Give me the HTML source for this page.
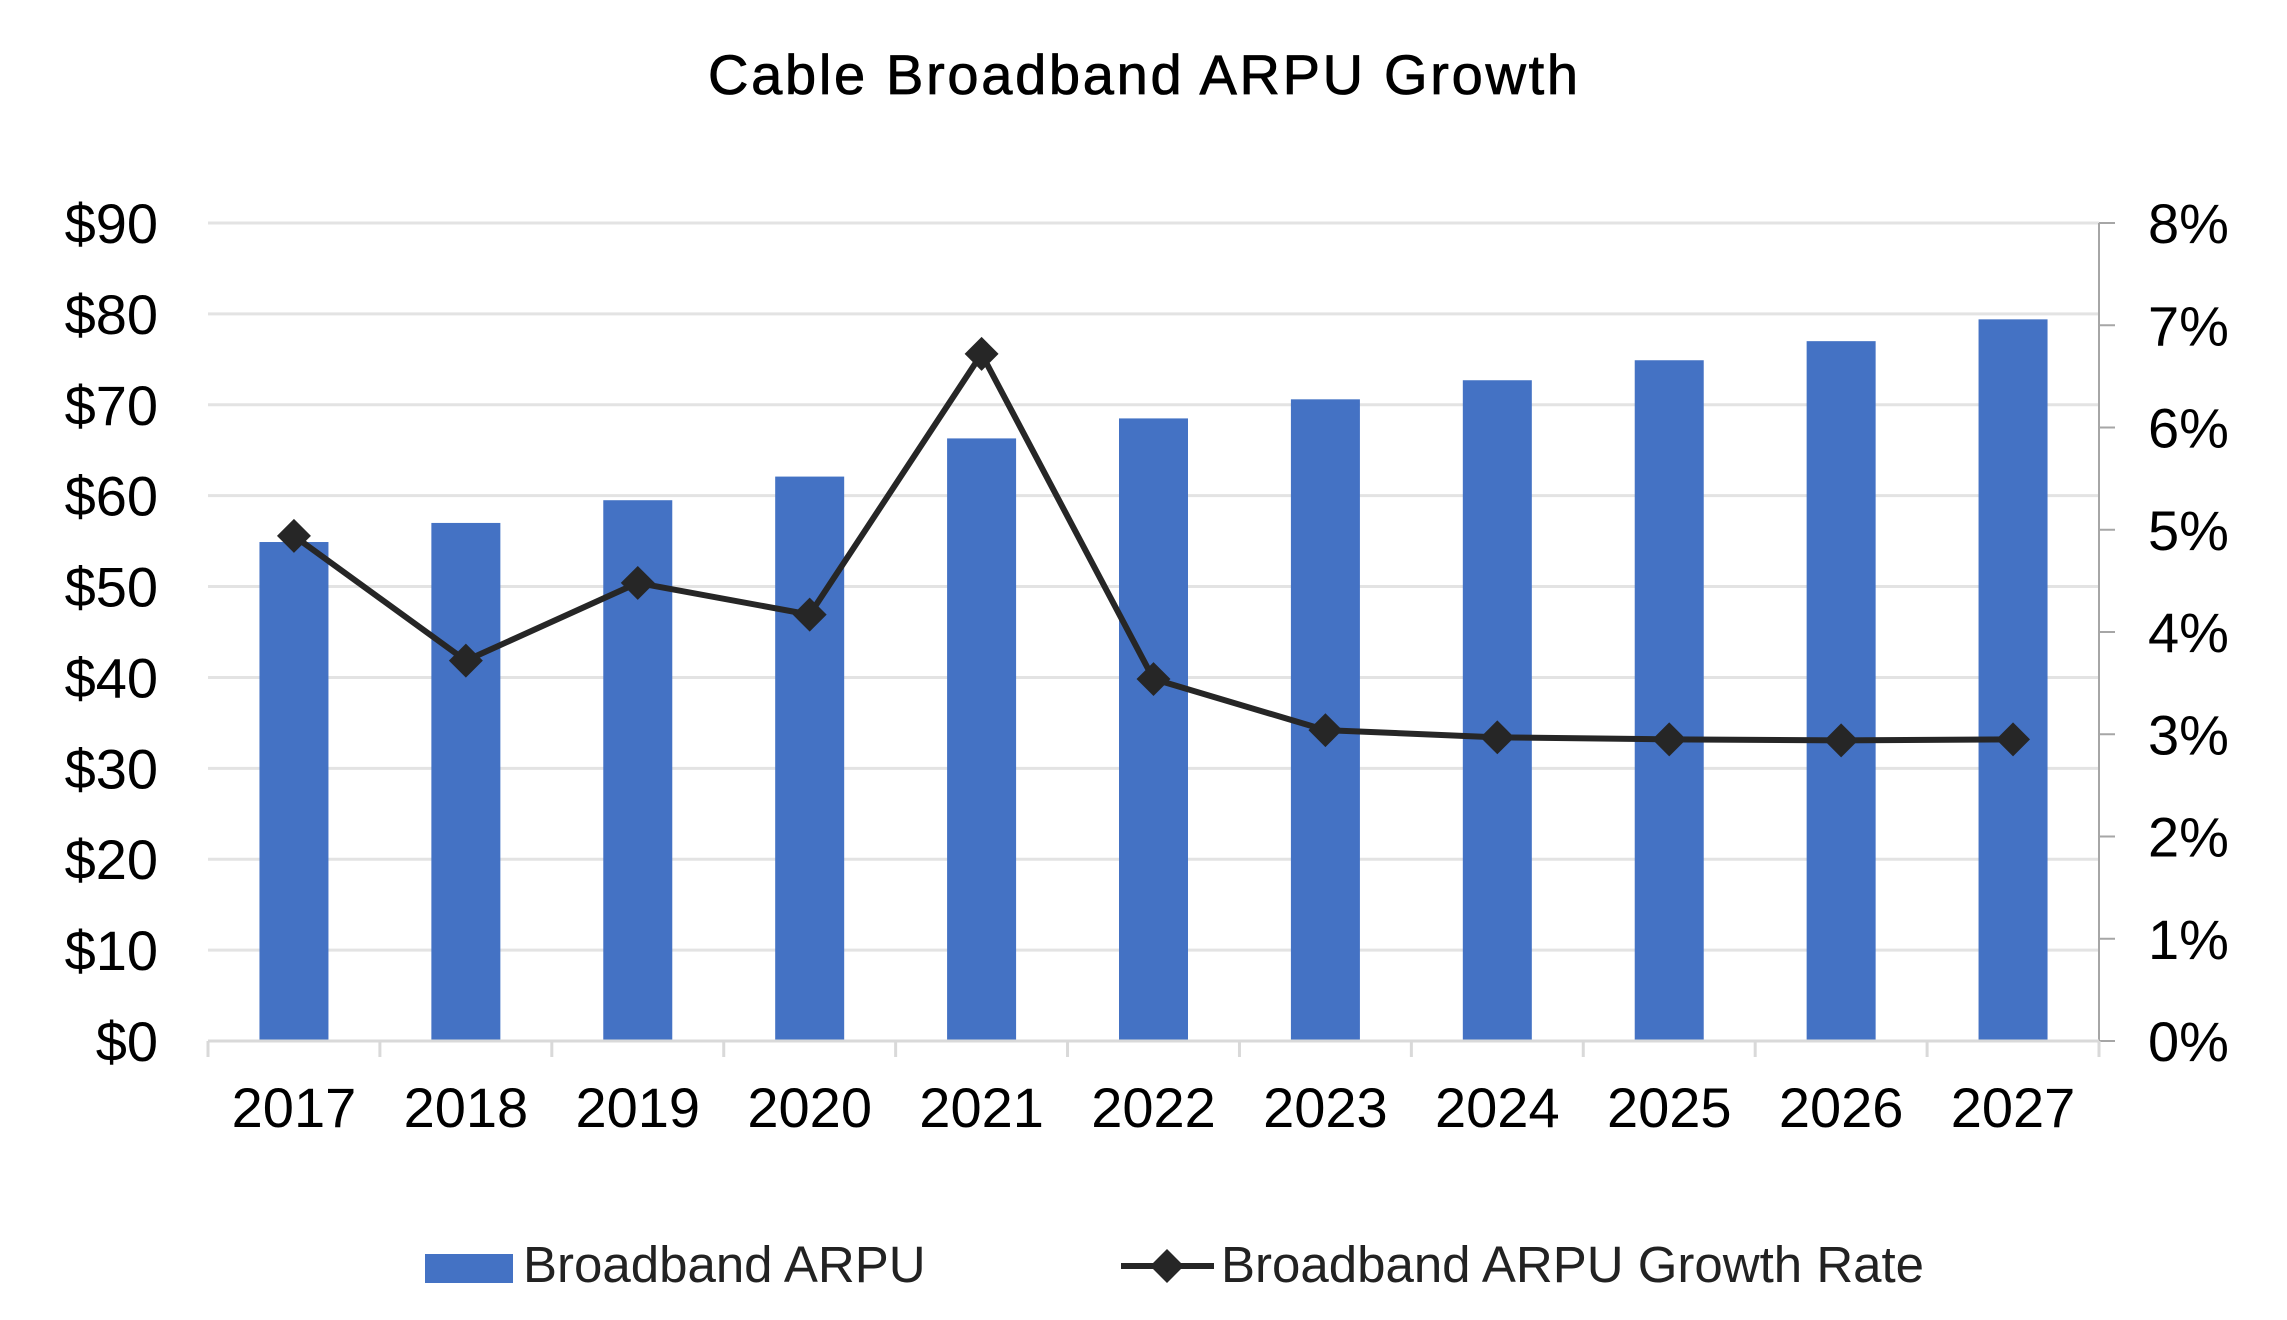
<!DOCTYPE html>
<html><head><meta charset="utf-8"><style>
html,body{margin:0;padding:0;background:#fff;}
svg{display:block;font-family:"Liberation Sans",sans-serif;}
</style></head><body>
<svg id="chart" width="2287" height="1320" viewBox="0 0 2287 1320" xmlns="http://www.w3.org/2000/svg">
<text x="1143" y="94" text-anchor="middle" font-size="56" textLength="870" fill="#000" stroke="#000" stroke-width="0.8">Cable Broadband ARPU Growth</text>
<g id="grid"></g>
<g id="bars"></g>
<g id="axes"></g>
<g id="line"></g>
<g>
<rect x="425" y="1254" width="88" height="29" fill="#4472C4"/>
<text x="523" y="1282" font-size="51" fill="#222">Broadband ARPU</text>
<line x1="1121" y1="1266" x2="1214" y2="1266" stroke="#262626" stroke-width="6"/>
<rect x="1155" y="1254" width="24" height="24" fill="#262626" transform="rotate(45 1167 1266)"/>
<text x="1221" y="1282" font-size="51" fill="#222">Broadband ARPU Growth Rate</text>
</g>
</svg>
<script>
const categories=["2017","2018","2019","2020","2021","2022","2023","2024","2025","2026","2027"];
const arpuValues=[54.9,57.0,59.5,62.1,66.3,68.5,70.6,72.7,74.9,77.0,79.4];
const growthValues=[4.94,3.72,4.48,4.17,6.72,3.54,3.04,2.97,2.95,2.94,2.95];
const leftTicks=[0,10,20,30,40,50,60,70,80,90];
const leftTickLabels=["$0","$10","$20","$30","$40","$50","$60","$70","$80","$90"];
const rightTicks=[0,1,2,3,4,5,6,7,8];
const rightTickLabels=["0%","1%","2%","3%","4%","5%","6%","7%","8%"];

const NS="http://www.w3.org/2000/svg";
const L=208,R=2099,T=223,B=1041;
const band=(R-L)/categories.length;
const xC=i=>L+band*(i+0.5);
const yL=v=>B-(v/90)*(B-T);
const yR=v=>B-(v/8)*(B-T);
function mk(tag,attrs,parent,txt){const e=document.createElementNS(NS,tag);for(const k in attrs)e.setAttribute(k,attrs[k]);if(txt!==undefined)e.textContent=txt;parent.appendChild(e);return e;}
const grid=document.getElementById('grid'),bars=document.getElementById('bars'),axes=document.getElementById('axes'),line=document.getElementById('line');

leftTicks.forEach((v,i)=>{
  if(v>0){const g=mk('line',{x1:L,x2:R,y1:yL(v),y2:yL(v),stroke:'#e3e3e3','stroke-width':3},grid);
  
  }
  const t=mk('text',{x:158,y:yL(v)+20,'text-anchor':'end','font-size':56,fill:'#000'},axes,leftTickLabels[i]);
  
  
});
rightTicks.forEach((v,i)=>{
  const tk=mk('line',{x1:R,x2:2115,y1:yR(v),y2:yR(v),stroke:'#a6a6a6','stroke-width':2},axes);
  
  
  const t=mk('text',{x:2148,y:yR(v)+20,'font-size':56,fill:'#000'},axes,rightTickLabels[i]);
  
  
});
const ra=mk('line',{x1:R,x2:R,y1:T,y2:B,stroke:'#a6a6a6','stroke-width':2},axes);


const xa=mk('line',{x1:L,x2:R,y1:B,y2:B,stroke:'#d9d9d9','stroke-width':3},axes);


for(let i=0;i<=categories.length;i++){
  const tk=mk('line',{x1:L+band*i,x2:L+band*i,y1:B,y2:B+16,stroke:'#d9d9d9','stroke-width':3},axes);
  
  
}
categories.forEach((c,i)=>{
  const b=mk('rect',{x:xC(i)-34.5,y:yL(arpuValues[i]),width:69,height:B-yL(arpuValues[i]),fill:'#4472C4'},bars);
  
  
  const t=mk('text',{x:xC(i),y:1127,'text-anchor':'middle','font-size':56,fill:'#000'},axes,c);
  
  
});
const pts=growthValues.map((v,i)=>xC(i)+','+yR(v)).join(' ');
const pl=mk('polyline',{points:pts,fill:'none',stroke:'#262626','stroke-width':6,'stroke-linejoin':'round'},line);


growthValues.forEach((v,i)=>{
  const x=xC(i),y=yR(v);
  const m=mk('rect',{x:x-12,y:y-12,width:24,height:24,fill:'#262626',transform:`rotate(45 ${x} ${y})`},line);
  
  
});
</script>
</body></html>
